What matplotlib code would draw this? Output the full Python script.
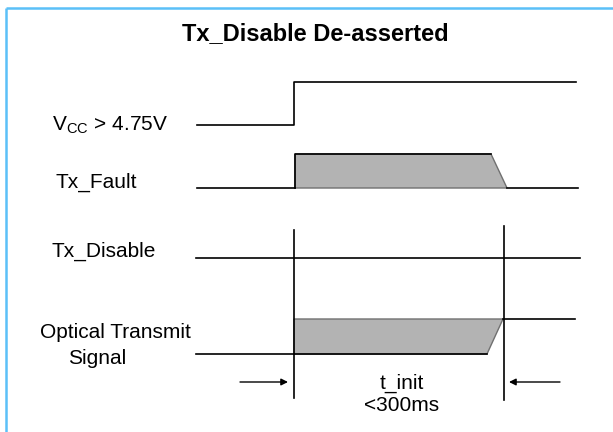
import matplotlib
matplotlib.use("Agg")
import matplotlib.pyplot as plt
from matplotlib.patches import Polygon

plt.rcParams['font.family'] = ['Liberation Sans', 'DejaVu Sans']
plt.rcParams['mathtext.fontset'] = 'custom'
plt.rcParams['mathtext.rm'] = 'Liberation Sans'

# ---- data (time / level coordinates of the timing diagram) ----
title = "Tx_Disable De-asserted"
signal_labels = ["V$_{\\mathregular{CC}}$ > 4.75V", "Tx_Fault", "Tx_Disable", "Optical Transmit", "Signal"]
label_x = [52, 56, 52, 115, 97]
label_y = [125, 182, 251, 333, 358]

vcc_t = [197, 294, 294, 576]
vcc_y = [125, 125, 82, 82]

fault_low_t = [197, 295]
fault_low_y = [188, 188]
fault_poly_t = [295, 295, 491, 507]
fault_poly_y = [188, 154, 154, 188]
fault_tail_t = [507, 578]
fault_tail_y = [188, 188]

disable_t = [196, 580]
disable_y = [258, 258]

opt_low_t = [196, 294]
opt_low_y = [354, 354]
opt_poly_t = [294, 294, 503, 487]
opt_poly_y = [354, 319, 319, 354]
opt_high_t = [503, 575]
opt_high_y = [319, 319]

marker_t = [294, 504]
marker_top = [230, 226]
marker_bot = [398, 400]

arrow_y = 382
arrow_left = (240, 288)
arrow_right = (560, 509)
timing_text = ["t_init", "<300ms"]
timing_x = 402
timing_baseline = [389, 411]

fig = plt.figure(figsize=(6.13, 4.32), dpi=100)
ax = fig.add_axes([0, 0, 1, 1])
ax.set_xlim(0, 613)
ax.set_ylim(432, 0)
ax.axis('off')

# frame (top and left edges)
ax.plot([6, 613], [8, 8], color='#5BC0F8', lw=1.8, solid_capstyle='butt')
ax.plot([6, 6], [8, 432], color='#5BC0F8', lw=1.8, solid_capstyle='butt')

ax.text(315, 34, title, ha='center', va='center', fontsize=17, fontweight='bold')

lw = 1.2
k = 'black'
g = '#707070'
fill = '#B3B3B3'
ax.plot(vcc_t, vcc_y, color=k, lw=lw)

ax.add_patch(Polygon(list(zip(fault_poly_t, fault_poly_y)), closed=True,
                     facecolor=fill, edgecolor=g, lw=1))
ax.plot(fault_poly_t[:3], fault_poly_y[:3], color=k, lw=lw)
ax.plot(fault_low_t, fault_low_y, color=k, lw=lw)
ax.plot(fault_tail_t, fault_tail_y, color=k, lw=lw)

ax.plot(disable_t, disable_y, color=k, lw=lw)

ax.add_patch(Polygon(list(zip(opt_poly_t, opt_poly_y)), closed=True,
                     facecolor=fill, edgecolor=g, lw=1))
ax.plot([opt_poly_t[0], opt_poly_t[3]], [opt_poly_y[0], opt_poly_y[3]], color=k, lw=lw)
ax.plot(opt_low_t, opt_low_y, color=k, lw=lw)
ax.plot(opt_high_t, opt_high_y, color=k, lw=lw)

for t, a, b in zip(marker_t, marker_top, marker_bot):
    ax.plot([t, t], [a, b], color=k, lw=lw)

ap = dict(arrowstyle='-|>', color=k, lw=1, mutation_scale=10, shrinkA=0, shrinkB=0)
ax.annotate('', xy=(arrow_left[1], arrow_y), xytext=(arrow_left[0], arrow_y), arrowprops=ap)
ax.annotate('', xy=(arrow_right[1], arrow_y), xytext=(arrow_right[0], arrow_y), arrowprops=ap)

for s, y in zip(timing_text, timing_baseline):
    ax.text(timing_x, y, s, ha='center', va='baseline', fontsize=15)

for i, (lab, x, y) in enumerate(zip(signal_labels, label_x, label_y)):
    ha = 'center' if i >= 3 else 'left'
    ax.text(x, y, lab, ha=ha, va='center', fontsize=15)

fig.savefig('out.png', dpi=100)
